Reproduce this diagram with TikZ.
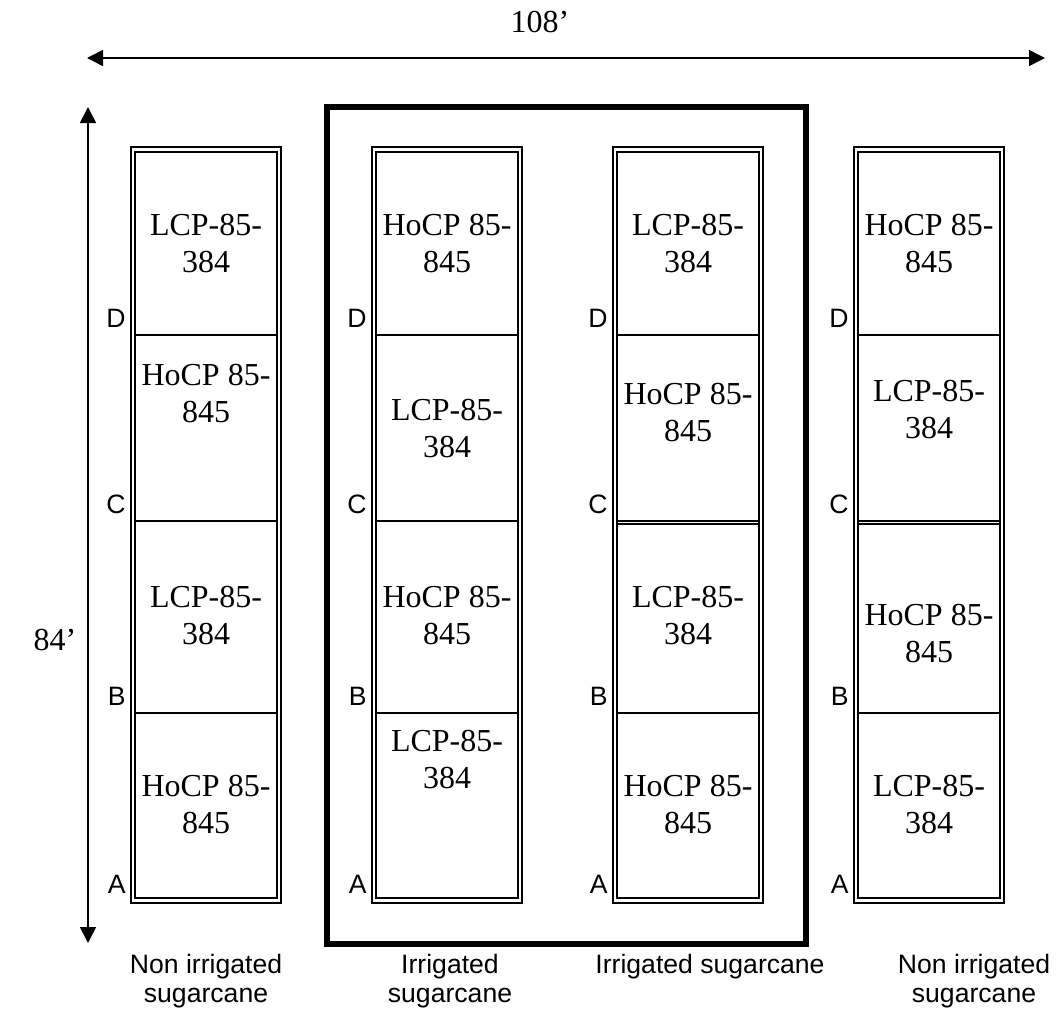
\documentclass[tikz,border=0pt]{standalone}
\usepackage{fontspec}
\setmainfont{Liberation Serif}
\setsansfont{Liberation Sans}
\usetikzlibrary{arrows.meta}
\newcommand{\lcp}{LCP-85-\\384}
\newcommand{\hocp}{HoCP 85-\\845}
\newcommand{\stripcol}[2]{%
  \draw[plotbox] (133,149.5) rectangle (279,900.5);
  \foreach \yy in {#2} \draw[cutline] (135,\yy) -- (277,\yy);
  \node[rowlab] (D#1) at (126,327) {D};
  \node[rowlab] (C#1) at (126,513) {C};
  \node[rowlab] (B#1) at (126,705) {B};
  \node[rowlab] (A#1) at (126,893) {A};}
\tikzset{
  plotbox/.style={double, double distance=1.25pt, line width=1pt},
  cutline/.style={line width=1.05pt},
  irrbox/.style={line width=3pt},
  dimarr/.style={{Triangle[length=8pt,width=8pt]}-{Triangle[length=8pt,width=8pt]}, line width=0.8pt},
  cellt/.style={font=\fontsize{16}{18.3}\selectfont, align=center, anchor=base, inner sep=0pt},
  rowlab/.style={font=\sffamily\fontsize{13.3}{14.5}\selectfont, anchor=base east, inner sep=0pt},
  trtlab/.style={font=\sffamily\fontsize{13.3}{14.5}\selectfont, align=center, anchor=base, inner sep=0pt},
  dimlab/.style={font=\fontsize{16}{18.3}\selectfont, inner sep=0pt},
}
\begin{document}
\begin{tikzpicture}[x=0.5pt, y=-0.5pt]
\useasboundingbox (0,0) rectangle (1057,1017);
% dimensions
\coordinate (wide-l) at (87,58);
\coordinate (wide-r) at (1045,58);
\coordinate (high-t) at (88,107);
\coordinate (high-b) at (88,943);
\draw[dimarr] (wide-l) -- (wide-r);
\draw[dimarr] (high-t) -- (high-b);
\node[dimlab] (w108) at (540,22) {108’};
\node[dimlab] (h84) at (55,640) {84’};
% irrigated block
\draw[irrbox] (327,107) rectangle (806,944);
\begin{scope}
  \stripcol{1}{335,521,713}
  \node[cellt] (c11) at (206,272) {\lcp};
  \node[cellt] (c12) at (206,422) {\hocp};
  \node[cellt] (c13) at (206,644) {\lcp};
  \node[cellt] (c14) at (206,833) {\hocp};
\end{scope}
\begin{scope}[shift={(241,0)}]
  \stripcol{2}{335,521,713}
  \node[cellt] (c21) at (206,272) {\hocp};
  \node[cellt] (c22) at (206,457) {\lcp};
  \node[cellt] (c23) at (206,644) {\hocp};
  \node[cellt] (c24) at (206,788) {\lcp};
\end{scope}
\begin{scope}[shift={(482,0)}]
  \stripcol{3}{335,521,524,713}
  \node[cellt] (c31) at (206,272) {\lcp};
  \node[cellt] (c32) at (206,441) {\hocp};
  \node[cellt] (c33) at (206,644) {\lcp};
  \node[cellt] (c34) at (206,833) {\hocp};
\end{scope}
\begin{scope}[shift={(723,0)}]
  \stripcol{4}{335,521,524,713}
  \node[cellt] (c41) at (206,272) {\hocp};
  \node[cellt] (c42) at (206,438) {\lcp};
  \node[cellt] (c43) at (206,662) {\hocp};
  \node[cellt] (c44) at (206,833) {\lcp};
\end{scope}
% treatments
\node[trtlab] (t1) at (206,1002) {Non irrigated\\sugarcane};
\node[trtlab] (t2) at (450,1002) {Irrigated\\sugarcane};
\node[trtlab] (t3) at (710,973) {Irrigated sugarcane};
\node[trtlab] (t4) at (974,1002) {Non irrigated\\sugarcane};
\end{tikzpicture}
\end{document}
